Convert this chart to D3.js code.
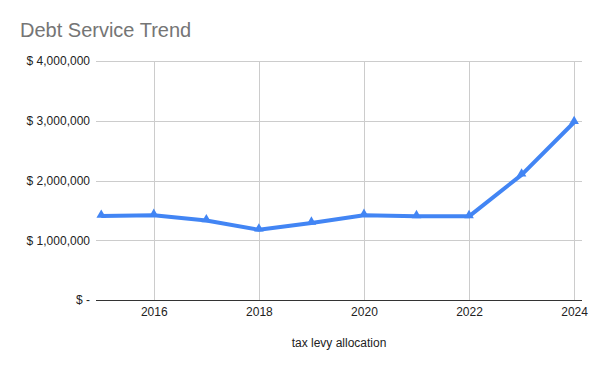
<!DOCTYPE html>
<meta charset="utf-8">
<style>
body { margin: 0; background: #fff; }
text { font-family: Arial, "Liberation Sans", sans-serif; }
</style>
<svg width="600" height="371"></svg>
<script src="https://cdn.jsdelivr.net/npm/d3@7"></script>
<script>

// data
var years = [2015, 2016, 2017, 2018, 2019, 2020, 2021, 2022, 2023, 2024]
var debtService = [1405000, 1420000, 1330000, 1175000, 1290000, 1420000, 1400000, 1400000, 2095000, 2975000]
var yTicks = [0, 1000000, 2000000, 3000000, 4000000]
var xTicks = [2016, 2018, 2020, 2022, 2024]

var svg = d3.select('svg')

var plotLeft = 96, plotRight = 582, plotTop = 61, plotBottom = 300

// 2015 sits a little inside the left edge, 2024 a little inside the right
var x = d3.scaleLinear().domain([2014.9, 2024.15]).range([plotLeft, plotRight])
var y = d3.scaleLinear().domain([0, 4000000]).range([plotBottom, plotTop])

function money(d) {
	return d === 0 ? '$ -' : '$ ' + d3.format(',')(d)
}

// title
svg.append('text')
	.attr('x', 20)
	.attr('y', 37)
	.attr('fill', '#757575')
	.style('font-size', '20px')
	.text('Debt Service Trend')

// horizontal grid
svg.append('g')
	.selectAll('line')
	.data(yTicks.filter(function (d) { return d > 0 }))
	.enter().append('line')
	.attr('x1', plotLeft).attr('x2', plotRight)
	.attr('y1', function (d) { return Math.round(y(d)) + 0.5 }).attr('y2', function (d) { return Math.round(y(d)) + 0.5 })
	.attr('stroke', '#cccccc').attr('stroke-width', 1)

// vertical grid
svg.append('g')
	.selectAll('line')
	.data(xTicks)
	.enter().append('line')
	.attr('x1', function (d) { return Math.round(x(d)) + 0.5 }).attr('x2', function (d) { return Math.round(x(d)) + 0.5 })
	.attr('y1', plotTop).attr('y2', plotBottom)
	.attr('stroke', '#cccccc').attr('stroke-width', 1)

// y axis labels
var yAxis = svg.append('g')
	.attr('transform', 'translate(' + plotLeft + ',0)')
	.call(d3.axisLeft(y).tickValues(yTicks).tickFormat(money).tickSize(0).tickPadding(6))
yAxis.select('.domain').remove()
yAxis.selectAll('text')
	.attr('fill', '#222').style('font-size', '12px')
	.attr('font-family', 'Arial, "Liberation Sans", sans-serif')

// x axis
var xAxis = svg.append('g')
	.attr('transform', 'translate(0,' + plotBottom + ')')
	.call(d3.axisBottom(x).tickValues(xTicks).tickFormat(d3.format('d')).tickSize(0).tickPadding(7))
xAxis.select('.domain').remove()
xAxis.selectAll('text')
	.attr('fill', '#222').style('font-size', '12px')
	.attr('font-family', 'Arial, "Liberation Sans", sans-serif')

svg.append('line')
	.attr('x1', plotLeft).attr('x2', plotRight)
	.attr('y1', plotBottom + 0.5).attr('y2', plotBottom + 0.5)
	.attr('stroke', '#333').attr('stroke-width', 1)

// axis title
svg.append('text')
	.attr('x', (plotLeft + plotRight) / 2)
	.attr('y', 347)
	.attr('text-anchor', 'middle')
	.attr('fill', '#222')
	.style('font-size', '12px')
	.text('tax levy allocation')

// the line
var line = d3.line()
	.x(function (d, i) { return x(years[i]) })
	.y(function (d) { return y(d) })

svg.append('path')
	.datum(debtService)
	.attr('d', line)
	.attr('fill', 'none')
	.attr('stroke', '#4285f4')
	.attr('stroke-width', 4)
	.attr('stroke-linejoin', 'round')

// triangle markers
svg.append('g')
	.selectAll('path')
	.data(debtService)
	.enter().append('path')
	.attr('d', d3.symbol().type(d3.symbolTriangle).size(40))
	.attr('transform', function (d, i) { return 'translate(' + x(years[i]) + ',' + (y(d) - 1) + ')' })
	.attr('fill', '#4285f4')

</script>
